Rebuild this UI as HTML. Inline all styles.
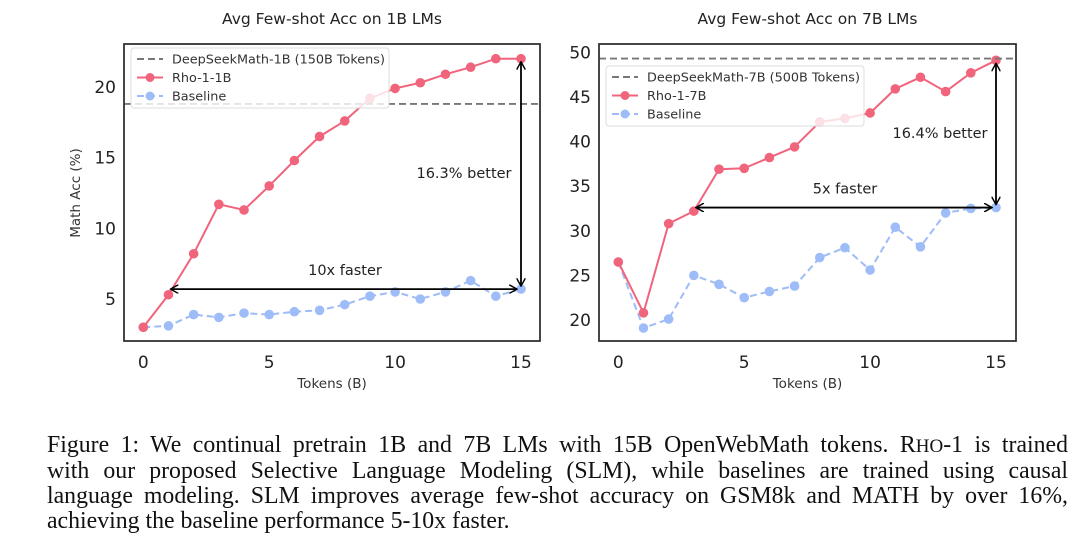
<!DOCTYPE html>
<html><head><meta charset="utf-8"><style>
html,body{margin:0;padding:0;background:#fff;}
body{width:1080px;height:553px;position:relative;overflow:hidden;}
svg{position:absolute;left:0;top:0;}
.cap{position:absolute;left:47px;width:1021px;font-family:"Liberation Serif",serif;font-size:23.8px;line-height:26px;color:#111;white-space:nowrap;}
.j{text-align:justify;text-align-last:justify;white-space:normal;}
</style></head><body>
<svg width="1080" height="420" font-family="DejaVu Sans, Liberation Sans, sans-serif">
<g id="left"></g>
<g id="right"></g>
</svg>
<div class="cap j" style="top:432px">Figure 1: We continual pretrain 1B and 7B LMs with 15B OpenWebMath tokens. R<span style="font-size:19px">HO</span>-1 is trained</div>
<div class="cap j" style="top:458px">with our proposed Selective Language Modeling (SLM), while baselines are trained using causal</div>
<div class="cap j" style="top:483px">language modeling. SLM improves average few-shot accuracy on GSM8k and MATH by over 16%,</div>
<div class="cap" style="top:508px">achieving the baseline performance 5-10x faster.</div>
<script>
const tokens = [0,1,2,3,4,5,6,7,8,9,10,11,12,13,14,15];
const rho1B = [3.0,5.3,8.2,11.7,11.3,13.0,14.8,16.5,17.6,19.2,19.9,20.3,20.9,21.4,22.0,22.0];
const base1B = [3.0,3.1,3.9,3.7,4.0,3.9,4.1,4.2,4.6,5.2,5.5,5.0,5.5,6.3,5.2,5.7];
const ds1B = 18.8;
const rho7B = [26.5,20.8,30.8,32.2,36.9,37.0,38.2,39.4,42.2,42.6,43.2,45.9,47.2,45.6,47.7,49.1];
const base7B = [26.5,19.1,20.1,25.0,24.0,22.5,23.2,23.8,27.0,28.1,25.6,30.4,28.2,32.0,32.5,32.6];
const ds7B = 49.3;
const xTicks = [0,5,10,15];
const yTicks1B = [5,10,15,20];
const yTicks7B = [20,25,30,35,40,45,50];

const NS='http://www.w3.org/2000/svg';
function mk(parent,tag,attrs,text){const e=document.createElementNS(NS,tag);for(const k in attrs)e.setAttribute(k,attrs[k]);if(text!==undefined)e.textContent=text;parent.appendChild(e);return e;}

function chart(g,cfg){
  const X=v=>cfg.x0+(v-0)*(cfg.x15-cfg.x0)/15;
  const Y=v=>cfg.yB+(v-cfg.vB)*(cfg.yT-cfg.yB)/(cfg.vT-cfg.vB);
  let t=mk(g,'text',{x:(cfg.bx0+cfg.bx1)/2,y:24,'text-anchor':'middle','font-size':15.5,fill:'#222'},cfg.title);
  
  let pts=tokens.map((v,i)=>X(v)+','+Y(cfg.base[i])).join(' ');
  let l=mk(g,'polyline',{points:pts,fill:'none',stroke:'#9ebcf8','stroke-width':2,'stroke-dasharray':'7,4'});
  
  tokens.forEach((v,i)=>{const c=mk(g,'circle',{cx:X(v),cy:Y(cfg.base[i]),r:4.8,fill:'#9ebcf8'});
    });
  pts=tokens.map((v,i)=>X(v)+','+Y(cfg.rho[i])).join(' ');
  l=mk(g,'polyline',{points:pts,fill:'none',stroke:'#f0647c','stroke-width':2});
  
  tokens.forEach((v,i)=>{const c=mk(g,'circle',{cx:X(v),cy:Y(cfg.rho[i]),r:4.8,fill:'#f0647c'});
    });
  l=mk(g,'line',{x1:cfg.bx0,x2:cfg.bx1,y1:Y(cfg.ds),y2:Y(cfg.ds),stroke:'#777','stroke-width':1.8,'stroke-dasharray':'7,4'});
  
  const lg=mk(g,'g',{});
  
  const lx=cfg.lx, ly=cfg.ly;
  mk(lg,'rect',{x:lx,y:ly,width:258,height:60,rx:3,fill:'#fff','fill-opacity':0.8,stroke:'#ddd'});
  const ents=[[cfg.dsName,'#777','7,4',false],[cfg.rhoName,'#f0647c','none',true],['Baseline','#9ebcf8','7,4',true]];
  ents.forEach((e,i)=>{const yy=ly+11+i*18.5;
    const eg=mk(lg,'g',{});
    mk(eg,'line',{x1:lx+6,x2:lx+32,y1:yy,y2:yy,stroke:e[1],'stroke-width':2,'stroke-dasharray':e[2]});
    if(e[3])mk(eg,'circle',{cx:lx+19,cy:yy,r:4.5,fill:e[1]});
    mk(eg,'text',{x:lx+41,y:yy+4.5,'font-size':12.8,fill:'#333'},e[0]);});
  const b=mk(g,'rect',{x:cfg.bx0,y:44,width:cfg.bx1-cfg.bx0,height:297,fill:'none',stroke:'#333','stroke-width':1.8});
  
  xTicks.forEach(v=>{const tt=mk(g,'text',{x:X(v),y:368,'text-anchor':'middle','font-size':17,fill:'#222'},v);
    });
  cfg.yTicks.forEach(v=>{const tt=mk(g,'text',{x:cfg.bx0-8,y:Y(v)+6,'text-anchor':'end','font-size':17,fill:'#222'},v);
    });
  t=mk(g,'text',{x:(cfg.bx0+cfg.bx1)/2,y:388,'text-anchor':'middle','font-size':13.5,fill:'#333'},'Tokens (B)');
  
  if(cfg.ylab){t=mk(g,'text',{x:0,y:0,'text-anchor':'middle','font-size':13.5,fill:'#333',transform:'translate(80,193) rotate(-90)'},cfg.ylab);
    }
  const defs=mk(g,'defs',{});
  const m=mk(defs,'marker',{id:'ah'+cfg.id,viewBox:'0 0 10 10',refX:9,refY:5,markerWidth:9,markerHeight:9,orient:'auto-start-reverse',markerUnits:'userSpaceOnUse'});
  mk(m,'path',{d:'M0,0 L9,5 L0,10',fill:'none',stroke:'#000','stroke-width':1.6});
  const hy=Y(cfg.base[15]);
  l=mk(g,'line',{x1:X(cfg.fastFrom)+2,x2:X(15)-4,y1:hy,y2:hy,stroke:'#000','stroke-width':1.8,'marker-start':'url(#ah'+cfg.id+')','marker-end':'url(#ah'+cfg.id+')'});
  
  l=mk(g,'line',{x1:X(15),x2:X(15),y1:Y(cfg.rho[15])+3,y2:hy-3,stroke:'#000','stroke-width':1.8,'marker-start':'url(#ah'+cfg.id+')','marker-end':'url(#ah'+cfg.id+')'});
  
  t=mk(g,'text',{x:cfg.fx,y:hy-14,'text-anchor':'middle','font-size':14.5,fill:'#222'},cfg.fastTxt);
  
  t=mk(g,'text',{x:cfg.btx,y:cfg.bty,'text-anchor':'middle','font-size':14.5,fill:'#222'},cfg.betterTxt);
  
}
chart(document.getElementById('left'),{id:'L',title:'Avg Few-shot Acc on 1B LMs',x0:143.3,x15:521,bx0:124,bx1:540,yB:299,vB:5,yT:87,vT:20,
  rho:rho1B,base:base1B,ds:ds1B,yTicks:yTicks1B,lx:131,ly:48,dsName:'DeepSeekMath-1B (150B Tokens)',rhoName:'Rho-1-1B',
  ylab:'Math Acc (%)',fastFrom:1,fx:345,fastTxt:'10x faster',betterTxt:'16.3% better',btx:464,bty:178});
chart(document.getElementById('right'),{id:'R',title:'Avg Few-shot Acc on 7B LMs',x0:618.3,x15:996,bx0:599,bx1:1016,yB:320,vB:20,yT:52.3,vT:50,
  rho:rho7B,base:base7B,ds:ds7B,yTicks:yTicks7B,lx:606,ly:66,dsName:'DeepSeekMath-7B (500B Tokens)',rhoName:'Rho-1-7B',
  ylab:null,fastFrom:3,fx:845,fastTxt:'5x faster',betterTxt:'16.4% better',btx:940,bty:138});
</script>
</body></html>
